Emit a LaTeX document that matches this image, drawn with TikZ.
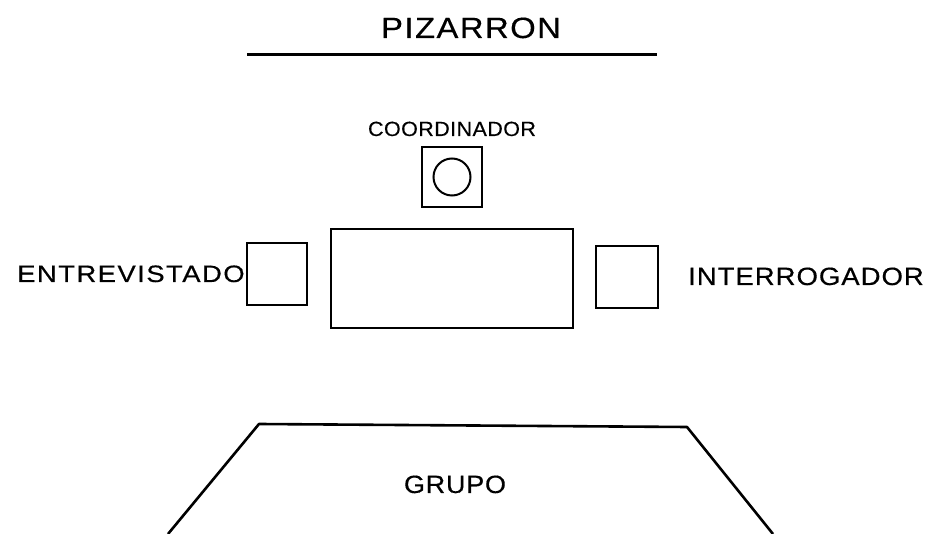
\documentclass[tikz,border=0pt]{standalone}
\usepackage{fontspec}
\setmainfont{Liberation Sans}
\usepackage{tikz}
\tikzset{
    mueble/.style={draw, rectangle, line width=2.2pt, inner sep=0pt}
}
\tikzset{
    rotulo/.style={inner sep=0pt, anchor=base}
}
% size, stretch, spacing
\newcommand{\letra}[3]{\fontsize{#1}{#1}\selectfont\addfontfeatures{FakeStretch=#2, LetterSpace=#3, FakeBold=0.4}}

\begin{document}
\begin{tikzpicture}[x=1pt, y=-1pt]
	\useasboundingbox (0,0) rectangle (935,534);
	% pizarron
	\node [rotulo] (pizarron) at (471,38) {\letra{29.3}{1.12}{5}PIZARRON};
	\draw [line width=3pt] (247,55) -- (657,55);
	% coordinador
	\node [rotulo] (coordtxt) at (452,136) {\letra{20.5}{1.05}{2}COORDINADOR};
	\node [mueble, minimum width=60pt, minimum height=60pt] (coord) at (452,177) {};
	\node [draw, circle, line width=2pt, minimum size=37pt, inner sep=0pt] (silla) at (coord.center) {};
	% mesa y sillas
	\node [mueble, minimum width=242pt, minimum height=99pt] (mesa) at (452,278.5) {};
	\node [mueble, minimum width=60pt, minimum height=62pt] (entrev) at (277,274) {};
	\node [mueble, minimum width=62pt, minimum height=62pt] (interrog) at (627,277) {};
	\node [rotulo, anchor=base west] (entrevtxt) at (17,282) {\letra{23.7}{1.16}{6}ENTREVISTADO};
	\node [rotulo, anchor=base west] (interrogtxt) at (688,285) {\letra{25}{1.1}{4}INTERROGADOR};
	% grupo
	\draw [line width=2.6pt, line join=round] (168,534) -- (259,424) -- (687,427) -- (773,534);
	\node [rotulo] (grupo) at (455,493) {\letra{25}{1.08}{3}GRUPO};
\end{tikzpicture}
\end{document}
